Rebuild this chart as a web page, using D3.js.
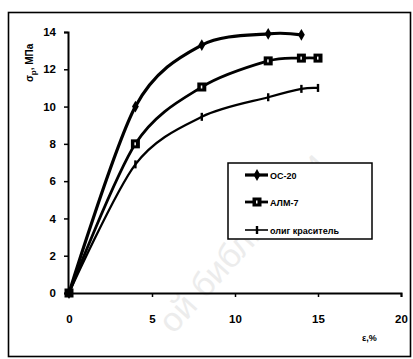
<!DOCTYPE html>
<html>
<head>
<meta charset="utf-8">
<script src="https://cdn.jsdelivr.net/npm/d3@7/dist/d3.min.js"></script>
<style>
  html, body { margin: 0; padding: 0; background: #fff; }
  svg { display: block; }
  text { font-family: "Liberation Sans", Arial, sans-serif; font-weight: bold; fill: #000; }
</style>
</head>
<body>
<svg id="chart" width="413" height="359"></svg>
<script>
// Strain, % (x) and tensile strength, MPa (y) for each material
const osX   = [0, 4, 8, 12, 14];
const osY   = [0, 10, 13.3, 13.9, 13.85];
const almX  = [0, 4, 8, 12, 14, 15];
const almY  = [0, 8, 11.05, 12.45, 12.6, 12.6];
const oligX = [0, 4, 8, 12, 14, 15];
const oligY = [0, 6.9, 9.45, 10.5, 10.95, 11.0];

const seriesNames = ["ОС-20", "АЛМ-7", "олиг краситель"];
const xTicks = [0, 5, 10, 15, 20];
const yTicks = [0, 2, 4, 6, 8, 10, 12, 14];

const svg = d3.select("#chart");

// outer frame
svg.append("rect")
  .attr("x", 8.5).attr("y", 12.5).attr("width", 402).attr("height", 344)
  .attr("fill", "none").attr("stroke", "#000").attr("stroke-width", 1.6);

// faint background watermark
svg.append("text")
  .attr("transform", "translate(250,250) rotate(-48)")
  .attr("text-anchor", "middle")
  .style("font-size", "34px").style("font-weight", "normal")
  .style("fill", "#ececec")
  .text("ой библиотеки");

const x = d3.scaleLinear().domain([0, 20]).range([69, 401]);
const y = d3.scaleLinear().domain([0, 14]).range([293, 32]);

// axes
const xAxis = svg.append("g").attr("transform", `translate(0,${y(0)})`)
  .call(d3.axisBottom(x).tickValues(xTicks).tickSize(4).tickPadding(18).tickFormat(d3.format("d")));
const yAxis = svg.append("g").attr("transform", `translate(${x(0) - 1},0)`)
  .call(d3.axisLeft(y).tickValues(yTicks).tickSize(4).tickPadding(8).tickFormat(d3.format("d")));
[xAxis, yAxis].forEach(g => {
  g.select(".domain").attr("stroke-width", 2);
  g.selectAll(".tick line").attr("stroke-width", 1.5);
  g.selectAll("text").style("font-size", "11.5px").style("font-family", "Liberation Sans, Arial, sans-serif").style("font-weight", "bold");
});

// axis titles
svg.append("text")
  .attr("transform", "translate(33,82) rotate(-90)")
  .style("font-size", "10px")
  .call(t => {
    t.append("tspan").text("σ");
    t.append("tspan").attr("dy", 3).style("font-size", "8px").text("р");
    t.append("tspan").attr("dy", -3).text(", МПа");
  });
svg.append("text")
  .attr("x", 362).attr("y", 341)
  .style("font-size", "9px")
  .text("ε,%");

const line = d3.line()
  .x(d => x(d[0])).y(d => y(d[1]))
  .curve(d3.curveCardinal.tension(0.1));

const zip = (a, b) => a.map((v, i) => [v, b[i]]);
const osData = zip(osX, osY), almData = zip(almX, almY), oligData = zip(oligX, oligY);

svg.append("path").datum(osData).attr("d", line)
  .attr("fill", "none").attr("stroke", "#000").attr("stroke-width", 3.2);
svg.append("path").datum(almData).attr("d", line)
  .attr("fill", "none").attr("stroke", "#000").attr("stroke-width", 2.8);
svg.append("path").datum(oligData).attr("d", line)
  .attr("fill", "none").attr("stroke", "#000").attr("stroke-width", 2.3);

// marker drawers
const diamond = (g, cx, cy) => g.append("path")
  .attr("d", d3.symbol().type(d3.symbolDiamond).size(40)())
  .attr("transform", `translate(${cx},${cy})`).attr("fill", "#000");
const square = (g, cx, cy) => {
  g.append("rect").attr("x", cx - 4.5).attr("y", cy - 4.5).attr("width", 9).attr("height", 9)
    .attr("fill", "#000");
  g.append("rect").attr("x", cx - 1).attr("y", cy - 1.5).attr("width", 1.5).attr("height", 3)
    .attr("fill", "#fff");
};
const tick = (g, cx, cy) => g.append("rect")
  .attr("x", cx - 1.2).attr("y", cy - 4).attr("width", 2.4).attr("height", 8).attr("fill", "#000");

const mk = svg.append("g");
oligData.forEach(d => tick(mk, x(d[0]), y(d[1])));
almData.forEach(d => square(mk, x(d[0]), y(d[1])));
osData.forEach(d => diamond(mk, x(d[0]), y(d[1])));

// legend
const lg = svg.append("g");
lg.append("rect").attr("x", 228).attr("y", 163).attr("width", 144).attr("height", 76)
  .attr("fill", "#fff").attr("stroke", "#000").attr("stroke-width", 1.5);
const rows = [175, 202, 230];
const widths = [3.2, 2.8, 1.6];
rows.forEach((ry, i) => {
  lg.append("line").attr("x1", 245).attr("x2", 268).attr("y1", ry).attr("y2", ry)
    .attr("stroke", "#000").attr("stroke-width", widths[i]);
  if (i === 0) diamond(lg, 257, ry);
  if (i === 1) square(lg, 257, ry);
  if (i === 2) tick(lg, 257, ry);
  lg.append("text").attr("x", 270).attr("y", ry + 3.5)
    .style("font-size", "9px")
    .text(seriesNames[i]);
});
</script>
</body>
</html>
